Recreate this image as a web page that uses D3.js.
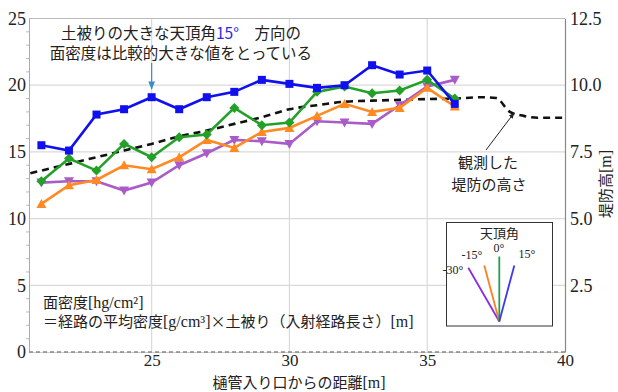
<!DOCTYPE html>
<html><head><meta charset="utf-8">
<script src="https://cdn.jsdelivr.net/npm/d3@7"></script>
<style>body{margin:0;background:#fff}svg{display:block}
.serif{font-family:"Liberation Serif","Times New Roman","DejaVu Serif",serif}
.cjk{font-family:"Noto Sans CJK JP","Noto Sans",sans-serif}
</style>
</head><body><svg id="c" width="618" height="392"></svg>
<script>
const distances = [21,22,23,24,25,26,27,28,29,30,31,32,33,34,35,36];
const zen15  = [15.5,15.1,17.8,18.2,19.1,18.2,19.1,19.5,20.4,20.1,19.8,20.0,21.5,20.8,21.1,18.6];
const zen0   = [12.8,14.5,13.6,15.6,14.6,16.1,16.3,18.3,17.0,17.2,19.5,19.9,19.4,19.6,20.4,19.0];
const zenM15 = [11.1,12.5,12.9,14.0,13.7,14.6,15.9,15.3,16.5,16.8,17.7,18.6,18.0,18.3,19.8,18.4];
const zenM30 = [12.7,12.8,12.8,12.1,12.7,14.0,14.9,15.9,15.8,15.6,17.3,17.2,17.1,18.5,19.9,20.4];
const levee_x = [20.6,22,23,24,25,26,27,28,29,30,31,32,33,34,35,36,37,37.5,38,38.5,39,40];
const levee_h = [6.7,7.05,7.3,7.55,7.8,8.08,8.3,8.55,8.8,9.1,9.25,9.38,9.42,9.45,9.48,9.5,9.55,9.52,9.0,8.85,8.78,8.78];
const leftTicks = [0,5,10,15,20,25];
const rightTicks = [2.5,5.0,7.5,10.0,12.5];
const xTicks = [25,30,35,40];
const legendAngles = [-30,-15,0,15];

const svg = d3.select('#c');
const L=29, R=565, T=18.5, B=352;
const x = d3.scaleLinear().domain([20.55,40]).range([L,R]);
const y = d3.scaleLinear().domain([0,25]).range([B,T]);
const y2 = d3.scaleLinear().domain([0,12.5]).range([B,T]);

// grid
svg.append('g').selectAll('line').data(leftTicks.filter(d=>d>0)).join('line')
  .attr('x1',L).attr('x2',R).attr('y1',d=>y(d)).attr('y2',d=>y(d))
  .attr('stroke','#d9d9d9').attr('stroke-width',1.2);
svg.append('g').selectAll('line').data(xTicks.filter(d=>d<40)).join('line')
  .attr('x1',d=>x(d)).attr('x2',d=>x(d)).attr('y1',T).attr('y2',B)
  .attr('stroke','#d9d9d9').attr('stroke-width',1.2);

// left axis
const la = svg.append('g').attr('transform',`translate(${L},0)`)
  .call(d3.axisLeft(y).tickValues(leftTicks).tickSize(0).tickPadding(3).tickFormat(d3.format('d')));
la.attr('font-family',null).attr('font-size',null);
la.select('.domain').attr('stroke','#aaa');
la.selectAll('text').attr('class','serif').style('font-size','18px').attr('fill','#222');
svg.append('g').selectAll('line').data(d3.range(1,25).filter(d=>d%5)).join('line')
  .attr('x1',L-3).attr('x2',L).attr('y1',d=>y(d)).attr('y2',d=>y(d)).attr('stroke','#bbb');

// right axis
const ra = svg.append('g').attr('transform',`translate(${R},0)`)
  .call(d3.axisRight(y2).tickValues(rightTicks).tickSize(0).tickPadding(5).tickFormat(d3.format('.1f')));
ra.attr('font-family',null).attr('font-size',null);
ra.select('.domain').attr('stroke','#888').attr('stroke-width',1.2);
ra.selectAll('text').attr('class','serif').style('font-size','18px').attr('fill','#222');

// top border
svg.append('line').attr('x1',L).attr('x2',R).attr('y1',T).attr('y2',T).attr('stroke','#bbb');

// bottom axis
const ba = svg.append('g').attr('transform',`translate(0,${B})`)
  .call(d3.axisBottom(x).tickValues(xTicks).tickSize(0).tickPadding(2).tickFormat(d3.format('d')));
ba.attr('font-family',null).attr('font-size',null);
ba.select('.domain').attr('stroke','#ccc');
ba.selectAll('text').attr('class','serif').style('font-size','17px').attr('fill','#222');
svg.append('line').attr('x1',L).attr('x2',R).attr('y1',y(0)).attr('y2',y(0))
  .attr('stroke','#888').attr('stroke-width',1.5).attr('stroke-dasharray','4,3');

// levee dashed line
svg.append('path').datum(levee_x.map((d,i)=>[d,levee_h[i]]))
  .attr('d',d3.line().x(d=>x(d[0])).y(d=>y2(d[1])).curve(d3.curveMonotoneX))
  .attr('fill','none').attr('stroke','#111').attr('stroke-width',2.6).attr('stroke-dasharray','7,5');

const series = [
  {vals:zenM30,color:'#a95cc8',sym:'tdown'},
  {vals:zenM15,color:'#ff8a24',sym:'tup'},
  {vals:zen0,color:'#22a028',sym:'diamond'},
  {vals:zen15,color:'#1010ee',sym:'square'}
];
const line = d3.line().x(d=>x(d[0])).y(d=>y(d[1]));
series.forEach(s=>{
  const pts = distances.map((d,i)=>[d,s.vals[i]]);
  svg.append('path').datum(pts).attr('d',line).attr('fill','none')
    .attr('stroke',s.color).attr('stroke-width',2.6);
  const g = svg.append('g');
  pts.forEach(p=>{
    const cx=x(p[0]), cy=y(p[1]);
    if(s.sym==='square') g.append('rect').attr('x',cx-4).attr('y',cy-4).attr('width',8).attr('height',8).attr('fill',s.color);
    else if(s.sym==='diamond') g.append('path').attr('d',`M${cx},${cy-5}L${cx+5},${cy}L${cx},${cy+5}L${cx-5},${cy}Z`).attr('fill',s.color);
    else if(s.sym==='tup') g.append('path').attr('d',`M${cx},${cy-5}L${cx+5},${cy+4}L${cx-5},${cy+4}Z`).attr('fill',s.color);
    else g.append('path').attr('d',`M${cx},${cy+5}L${cx+5},${cy-4}L${cx-5},${cy-4}Z`).attr('fill',s.color);
  });
});

// top annotation
const t1 = svg.append('text').attr('x',181).attr('y',39).attr('text-anchor','middle')
  .attr('class','cjk').style('font-size','15.5px').attr('fill','#222');
t1.append('tspan').text('土被りの大きな天頂角');
t1.append('tspan').attr('fill','#2a2ae0').text('15°');
t1.append('tspan').text('\u3000方向の');
svg.append('text').attr('x',181).attr('y',59).attr('text-anchor','middle')
  .attr('class','cjk').style('font-size','15.5px').attr('fill','#222').text('面密度は比較的大きな値をとっている');
svg.append('defs').html(`
<marker id="ah" viewBox="0 0 10 10" refX="9" refY="5" markerWidth="7" markerHeight="7" orient="auto"><path d="M0,1L10,5L0,9Z" fill="#3a8ec8"/></marker>
<marker id="ak" viewBox="0 0 10 10" refX="9" refY="5" markerWidth="6" markerHeight="6" orient="auto"><path d="M0,1L10,5L0,9Z" fill="#222"/></marker>`);
svg.append('line').attr('x1',x(25)).attr('x2',x(25)).attr('y1',63).attr('y2',89)
  .attr('stroke','#3a8ec8').attr('stroke-width',1.2).attr('marker-end','url(#ah)');

// levee annotation
svg.append('text').attr('x',488).attr('y',168).attr('text-anchor','middle')
  .attr('class','cjk').style('font-size','15px').attr('fill','#222').text('観測した');
svg.append('text').attr('x',489).attr('y',190).attr('text-anchor','middle')
  .attr('class','cjk').style('font-size','15px').attr('fill','#222').text('堤防の高さ');
svg.append('line').attr('x1',486).attr('y1',150).attr('x2',514).attr('y2',113)
  .attr('stroke','#222').attr('stroke-width',1).attr('marker-end','url(#ak)');

// formula
const f1 = svg.append('text').attr('x',43).attr('y',308).attr('fill','#222');
f1.append('tspan').attr('class','cjk').style('font-size','15px').text('面密度');
f1.append('tspan').attr('class','serif').style('font-size','16px').text('[hg/cm²]');
const f2 = svg.append('text').attr('x',43).attr('y',327).attr('fill','#222');
f2.append('tspan').attr('class','cjk').style('font-size','15px').text('＝経路の平均密度');
f2.append('tspan').attr('class','serif').style('font-size','16px').text('[g/cm³]');
f2.append('tspan').attr('class','cjk').style('font-size','15px').text('×土被り（入射経路長さ）');
f2.append('tspan').attr('class','serif').style('font-size','16px').text('[m]');

// axis titles
const xt = svg.append('text').attr('x',299).attr('y',388).attr('text-anchor','middle').attr('fill','#222');
xt.append('tspan').attr('class','cjk').style('font-size','15px').text('樋管入り口からの距離');
xt.append('tspan').attr('class','serif').style('font-size','16px').text('[m]');
const yt = svg.append('text').attr('transform','translate(611,184) rotate(-90)').attr('text-anchor','middle').attr('fill','#222');
yt.append('tspan').attr('class','cjk').style('font-size','15px').text('堤防高');
yt.append('tspan').attr('class','serif').style('font-size','16px').text('[m]');

// inset legend
const ix0=446.5, iy0=222.5, iw=106, ih=103.5;
svg.append('rect').attr('x',ix0).attr('y',iy0).attr('width',iw).attr('height',ih)
  .attr('fill','#fff').attr('stroke','#333').attr('stroke-width',1);
svg.append('text').attr('x',499.5).attr('y',238).attr('text-anchor','middle')
  .attr('class','cjk').style('font-size','13px').attr('fill','#222').text('天頂角');
const ox=499.3, oy=321.5;
const legColors = {'-30':'#8a2be2','-15':'#ff7f1e','0':'#22a050','15':'#3a3af0'};
const legLen = {'-30':62,'-15':58,'0':65,'15':58};
const legLab = {'-30':[453,274],'-15':[472,259],'0':[499,252],'15':[527,258]};
legendAngles.forEach(a=>{
  const rad = a*Math.PI/180;
  const len = legLen[a];
  svg.append('line').attr('x1',ox).attr('y1',oy)
    .attr('x2',ox+len*Math.sin(rad)).attr('y2',oy-len*Math.cos(rad))
    .attr('stroke',legColors[a]).attr('stroke-width',1.8);
  svg.append('text').attr('x',legLab[a][0]).attr('y',legLab[a][1]).attr('text-anchor','middle')
    .attr('class','serif').style('font-size','12px').attr('fill','#222').text(a+'°');
});
</script></body></html>
